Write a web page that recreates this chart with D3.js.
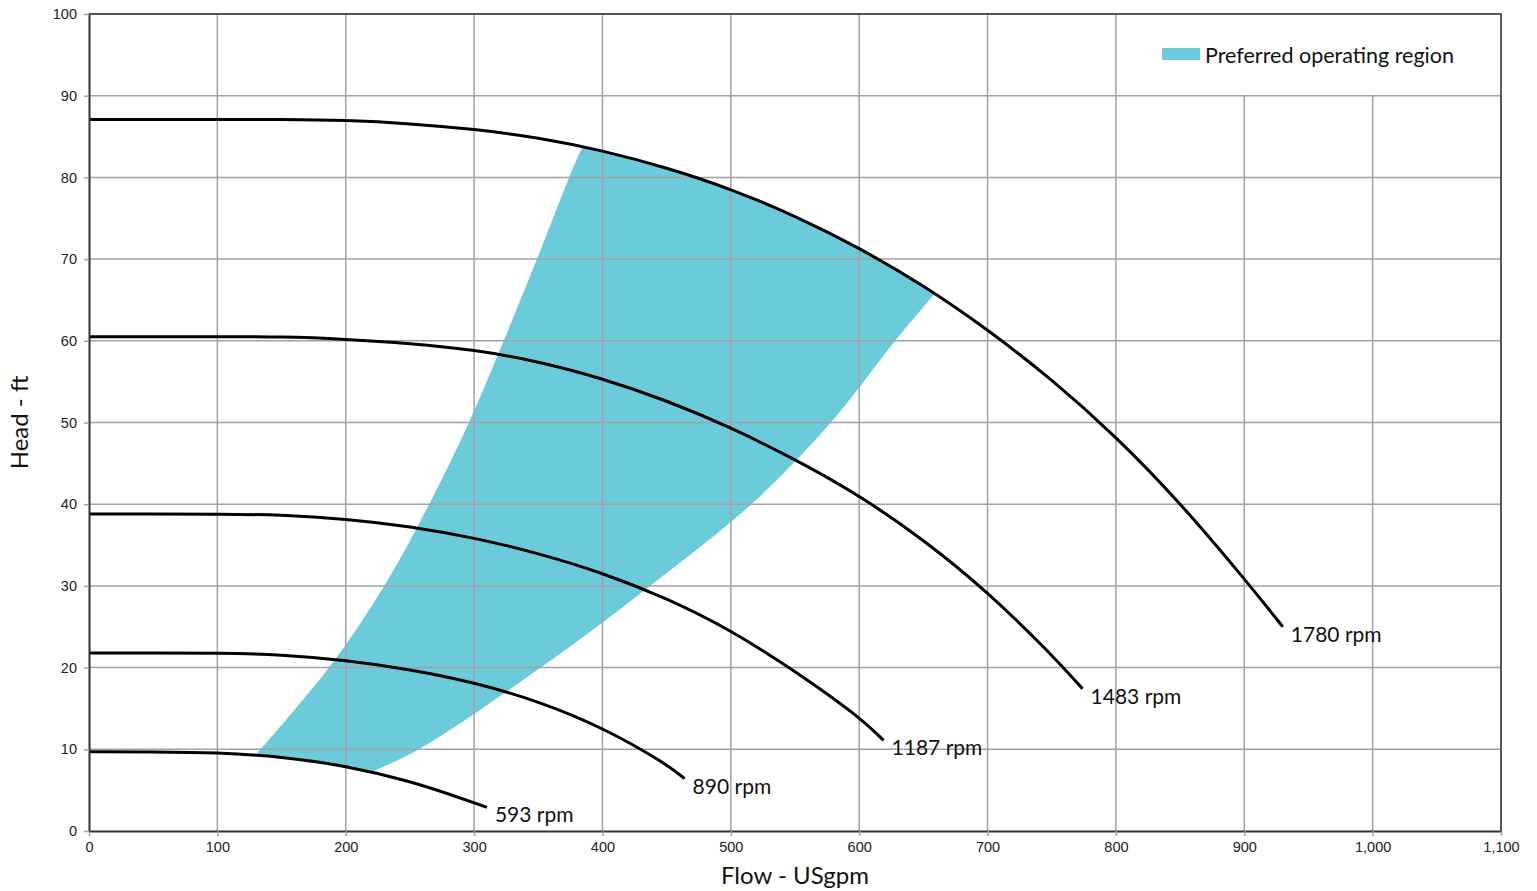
<!DOCTYPE html>
<html>
<head>
<meta charset="utf-8">
<script src="https://cdn.jsdelivr.net/npm/d3@7"></script>
<style>
  body { margin: 0; background: #fff; }
  .tick text { font-family: "Liberation Sans", Arial, sans-serif; font-size: 14.5px; fill: #222; }
  .lbl { font-family: Lato, "Open Sans", sans-serif; fill: #111; }
</style>
</head>
<body>
<div id="chart"></div>
<script>
// pump curves, [flow USgpm, head ft]
var speeds = ["1780 rpm", "1483 rpm", "1187 rpm", "890 rpm", "593 rpm"];
var curve1780 = [[0,87.1],[50,87.1],[100,87.1],[150,87.1],[200,87.0],[250,86.6],[300,85.9],[350,84.9],[400,83.3],[450,81.2],[500,78.6],[550,75.3],[600,71.4],[650,66.8],[700,61.4],[750,55.3],[800,48.3],[850,40.2],[900,30.9],[930,25.0]];
var curve1483 = [[0,60.5],[50,60.5],[100,60.5],[150,60.5],[200,60.2],[250,59.7],[300,58.9],[350,57.5],[400,55.4],[450,52.7],[500,49.4],[550,45.5],[600,41.1],[650,35.7],[700,29.3],[750,21.6],[774,17.4]];
var curve1187 = [[0,38.8],[50,38.8],[100,38.8],[150,38.7],[200,38.2],[250,37.3],[300,35.9],[350,34.0],[400,31.6],[450,28.5],[500,24.6],[550,19.6],[600,14.0],[619,11.1]];
var curve890 = [[0,21.8],[50,21.8],[100,21.8],[150,21.6],[200,20.9],[250,19.8],[300,18.2],[350,15.9],[400,12.7],[450,8.2],[464,6.4]];
var curve593 = [[0,9.7],[50,9.7],[100,9.6],[150,9.1],[200,8.0],[250,6.1],[281,4.5],[310,2.9]];

// preferred operating region outline pieces
var regionLeft = [[131,9.5],[187,20],[230,30],[265,40],[296,50],[323,60],[349,70],[374,80],[384,83.6]];
var regionTop = [[384,83.6],[400,83.3],[450,81.2],[500,78.6],[550,75.3],[600,71.4],[659,65.8]];
var regionRight = [[659,65.8],[628,60],[578,50],[516,40],[437,30],[352,20],[257,10],[221,7.3]];
var regionBottom = [[221,7.3],[200,8.0],[150,9.1],[131,9.5]];

var xTicks = d3.range(0, 1101, 100);
var yTicks = d3.range(0, 101, 10);

var W = 1537, H = 891;
var m = {left: 89, right: 36, top: 14, bottom: 60};

var svg = d3.select("#chart").append("svg")
    .attr("width", W)
    .attr("height", H);

var x = d3.scaleLinear().domain([0, 1100]).range([m.left, W - m.right]);
var y = d3.scaleLinear().domain([0, 100]).range([H - m.bottom, m.top]);

var line = d3.line()
    .x(function(d) { return x(d[0]); })
    .y(function(d) { return y(d[1]); })
    .curve(d3.curveBasis);
var edge = d3.line()
    .x(function(d) { return x(d[0]); })
    .y(function(d) { return y(d[1]); })
    .curve(d3.curveCatmullRom.alpha(0.5));

// region: join the four edges into one closed path
var parts = [edge(regionLeft), line(regionTop), edge(regionRight), edge(regionBottom)].map(function(s, i) {
    return i === 0 ? s : s.replace(/^M[^CLZ]*/, "");
});
svg.append("path")
    .attr("d", parts.join("") + "Z")
    .attr("fill", "#6ccbdb")
    .attr("stroke", "none");

// grid
var grid = svg.append("g");
grid.selectAll(".vg").data(xTicks.slice(1)).enter().append("line")
    .attr("x1", function(d) { return x(d); }).attr("x2", function(d) { return x(d); })
    .attr("y1", y(0)).attr("y2", y(100))
    .attr("stroke", "#a2a2a6").attr("stroke-width", 1.5);
grid.selectAll(".hg").data(yTicks.slice(1)).enter().append("line")
    .attr("x1", x(0)).attr("x2", x(1100))
    .attr("y1", function(d) { return y(d); }).attr("y2", function(d) { return y(d); })
    .attr("stroke", "#a2a2a6").attr("stroke-width", 1.5);

// legend box hides the grid behind it
svg.append("rect")
    .attr("x", x(800) + 1).attr("y", y(100))
    .attr("width", x(1100) - x(800) - 1).attr("height", y(90) - y(100) - 1)
    .attr("fill", "#fff");
svg.append("rect")
    .attr("x", 1162).attr("y", 48).attr("width", 38).attr("height", 12)
    .attr("fill", "#6ccbdb");
svg.append("text").attr("class", "lbl")
    .attr("x", 1205).attr("y", 63)
    .style("font-size", "21.5px")
    .text("Preferred operating region");

// frame top/right
svg.append("path")
    .attr("d", "M" + x(0) + "," + y(100) + "H" + x(1100) + "V" + y(0))
    .attr("fill", "none").attr("stroke", "#333").attr("stroke-width", 1.5);

// curves
var curves = [curve1780, curve1483, curve1187, curve890, curve593];
svg.selectAll(".pump").data(curves).enter().append("path")
    .attr("d", line)
    .attr("fill", "none")
    .attr("stroke", "#000")
    .attr("stroke-width", 3);

svg.selectAll(".rpm").data(curves).enter().append("text")
    .attr("class", "lbl")
    .attr("x", function(d) { return x(d[d.length - 1][0]) + 8; })
    .attr("y", function(d) { return y(d[d.length - 1][1]) + 15; })
    .style("font-size", "21px")
    .text(function(d, i) { return speeds[i]; });

// axes
var xAxis = svg.append("g")
    .attr("transform", "translate(0," + y(0) + ")")
    .call(d3.axisBottom(x).tickValues(xTicks).tickFormat(d3.format(",")).tickSize(5).tickSizeOuter(0));
var yAxis = svg.append("g")
    .attr("transform", "translate(" + x(0) + ",0)")
    .call(d3.axisLeft(y).tickValues(yTicks).tickSize(5).tickSizeOuter(0));
[xAxis, yAxis].forEach(function(a) {
    a.select(".domain").attr("stroke", "#333").attr("stroke-width", 2);
    a.selectAll(".tick line").attr("stroke", "#a2a2a6").attr("stroke-width", 1.5);
});
xAxis.selectAll(".tick text").attr("dy", "0.9em");
yAxis.selectAll(".tick text").attr("x", -12);

svg.append("text").attr("class", "lbl")
    .attr("x", (x(0) + x(1100)) / 2).attr("y", 884)
    .attr("text-anchor", "middle")
    .style("font-size", "24px")
    .text("Flow - USgpm");
svg.append("text").attr("class", "lbl")
    .attr("transform", "translate(28," + y(50) + ") rotate(-90)")
    .attr("text-anchor", "middle")
    .style("font-size", "24px")
    .text("Head - ft");
</script>
</body>
</html>
